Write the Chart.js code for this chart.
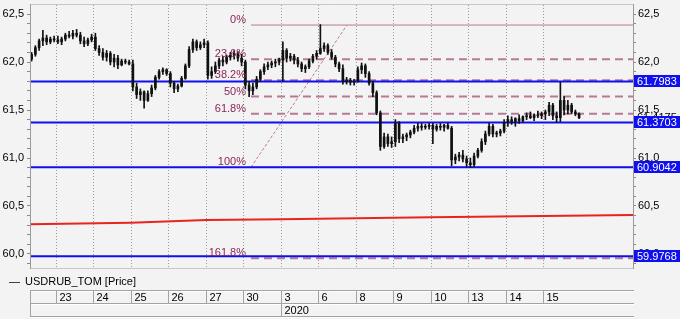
<!DOCTYPE html>
<html><head><meta charset="utf-8">
<script src="https://cdn.jsdelivr.net/npm/chart.js@4/dist/chart.umd.min.js"></script>
<style>html,body{margin:0;padding:0;background:#f3f3f3;overflow:hidden}canvas{display:block}</style>
</head><body>
<canvas id="c" width="680" height="319"></canvas>
<script>
// ---- data ----
const dayLabels = ['20','23','24','25','26','27','30','3','6','8','9','10','13','14','15'];
const yearLabel = '2020';
const yearStartDay = 7;          // index in dayLabels where the year 2020 begins
const candlesPerDay = 10;
const firstCandleSlot = 3;       // first visible candle slot of the partial first day
const seriesName = 'USDRUB_TOM [Price]';

const open = [
 62.03,62.08,62.15,62.22,62.25,62.21,62.24,
 62.23,62.21,62.24,62.28,62.27,62.30,62.28,62.22,62.19,62.23,
 62.26,62.14,62.10,62.05,62.09,62.00,62.04,61.97,62.01,62.00,
 61.98,61.74,61.66,61.69,61.60,61.67,61.73,61.84,61.90,61.92,
 61.88,61.78,61.72,61.75,61.83,61.96,62.13,62.21,62.15,62.18,
 62.20,61.86,61.90,61.96,62.02,62.00,62.05,62.07,62.09,62.04,
 62.00,61.76,61.70,61.74,61.82,61.90,61.95,61.97,61.99,62.00,
 62.02,62.12,62.04,62.06,62.02,61.98,61.93,61.95,62.01,62.06,
 62.09,62.14,62.17,62.10,62.05,61.98,61.93,61.80,61.81,61.79,
 61.80,61.92,61.96,61.88,61.78,61.68,61.47,61.12,61.22,61.15,
 61.17,61.36,61.20,61.22,61.24,61.27,61.31,61.33,61.32,61.33,
 61.34,61.30,61.33,61.32,61.34,61.31,60.98,61.01,61.03,60.99,
 60.95,60.93,61.02,61.08,61.17,61.25,61.33,61.25,61.26,61.28,
 61.37,61.40,61.38,61.41,61.39,61.43,61.44,61.42,61.45,61.44,
 61.46,61.48,61.55,61.44,61.42,61.60,61.50,61.55,61.48,61.46];
const high = [
 62.10,62.17,62.24,62.33,62.28,62.26,62.27,
 62.27,62.26,62.30,62.32,62.33,62.34,62.31,62.26,62.25,62.29,
 62.30,62.17,62.14,62.12,62.11,62.08,62.07,62.03,62.03,62.02,
 62.02,61.78,61.72,61.70,61.70,61.76,61.86,61.92,61.94,61.93,
 61.90,61.80,61.77,61.85,61.98,62.16,62.24,62.23,62.21,62.24,
 62.22,61.95,62.00,62.04,62.06,62.07,62.10,62.12,62.11,62.08,
 62.02,61.80,61.78,61.85,61.92,61.98,62.00,62.01,62.03,62.04,
 62.21,62.14,62.09,62.08,62.05,62.00,61.97,62.03,62.08,62.12,
 62.39,62.20,62.19,62.13,62.07,62.00,61.97,61.84,61.83,61.82,
 61.95,61.99,61.98,61.90,61.80,61.70,61.49,61.26,61.25,61.22,
 61.40,61.38,61.25,61.26,61.29,61.34,61.36,61.36,61.35,61.36,
 61.36,61.35,61.36,61.35,61.36,61.33,61.04,61.06,61.08,61.02,
 61.00,61.05,61.10,61.20,61.28,61.36,61.35,61.28,61.30,61.40,
 61.44,61.43,61.42,61.45,61.44,61.47,61.48,61.46,61.49,61.48,
 61.50,61.58,61.57,61.48,61.79,61.64,61.60,61.57,61.50,61.47];
const low = [
 62.01,62.06,62.12,62.17,62.18,62.19,62.21,
 62.19,62.18,62.22,62.25,62.24,62.26,62.19,62.16,62.17,62.21,
 62.12,62.07,62.02,62.01,61.97,61.95,61.93,61.96,61.98,61.97,
 61.70,61.62,61.60,61.52,61.59,61.64,61.71,61.82,61.87,61.86,
 61.74,61.68,61.69,61.74,61.82,61.94,62.10,62.12,62.13,62.15,
 61.82,61.83,61.88,61.93,61.96,61.98,62.02,62.03,62.01,61.96,
 61.72,61.64,61.66,61.72,61.80,61.87,61.92,61.94,61.95,61.97,
 61.80,62.00,62.01,61.98,61.95,61.90,61.89,61.93,61.99,62.03,
 62.08,62.11,62.08,62.03,61.95,61.90,61.77,61.77,61.76,61.76,
 61.79,61.88,61.84,61.76,61.64,61.45,61.08,61.10,61.12,61.11,
 61.12,61.16,61.16,61.18,61.21,61.25,61.28,61.29,61.30,61.30,
 61.15,61.28,61.29,61.28,61.30,60.92,60.94,60.97,60.96,60.91,
 60.90,60.91,61.00,61.06,61.14,61.23,61.22,61.22,61.23,61.26,
 61.33,61.35,61.33,61.36,61.37,61.40,61.41,61.39,61.42,61.41,
 61.40,61.44,61.40,61.37,61.38,61.45,61.46,61.46,61.44,61.41];
const close = [
 62.08,62.15,62.22,62.25,62.21,62.24,62.23,
 62.21,62.24,62.28,62.27,62.30,62.28,62.22,62.19,62.23,62.26,
 62.14,62.10,62.05,62.09,62.00,62.04,61.97,62.01,62.00,61.98,
 61.74,61.66,61.69,61.60,61.67,61.73,61.84,61.90,61.92,61.88,
 61.78,61.72,61.75,61.83,61.96,62.13,62.21,62.15,62.18,62.20,
 61.86,61.90,61.96,62.02,62.00,62.05,62.07,62.09,62.04,62.00,
 61.76,61.70,61.74,61.82,61.90,61.95,61.97,61.99,62.00,62.02,
 62.12,62.04,62.06,62.02,61.98,61.93,61.95,62.01,62.06,62.09,
 62.14,62.17,62.10,62.05,61.98,61.93,61.80,61.81,61.79,61.80,
 61.92,61.96,61.88,61.78,61.68,61.47,61.12,61.22,61.15,61.17,
 61.36,61.20,61.22,61.24,61.27,61.31,61.33,61.32,61.33,61.34,
 61.30,61.33,61.32,61.34,61.31,60.98,61.01,61.03,60.99,60.95,
 60.93,61.02,61.08,61.17,61.25,61.33,61.25,61.26,61.28,61.37,
 61.40,61.38,61.41,61.39,61.43,61.44,61.42,61.45,61.44,61.46,
 61.48,61.55,61.44,61.42,61.60,61.50,61.55,61.48,61.46,61.42];
const lastPrice = 61.4175;

const levelLines = [61.7983, 61.3703, 60.9042, 59.9768];

const fibNames  = ['0%','23.6%','38.2%','50%','61.8%','100%','161.8%'];
const fibValues = [62.385, 62.03, 61.81, 61.64, 61.46, 60.904, 59.955];
const fibSolid  = [true, false, false, false, false, true, false];

const redSlots  = [3.07, 30, 50, 70, 110, 163.87];
const redValues = [60.309, 60.326, 60.354, 60.361, 60.382, 60.406];

const yTicks = [59.9,60.0,60.1,60.2,60.3,60.4,60.5,60.6,60.7,60.8,60.9,61.0,61.1,61.2,61.3,61.4,61.5,
                61.6,61.7,61.8,61.9,62.0,62.1,62.2,62.3,62.4,62.5];

// ---- view range / anchors ----
const xMin = 3.067, xMax = 163.87;
const yMin = 59.854, yMax = 62.594;
const fibStartSlot = 62, fibDiagEndSlot = 87.6;

const FONT = '11px "Liberation Sans", Arial, sans-serif';
Chart.defaults.font.family = '"Liberation Sans", Arial, sans-serif';
Chart.defaults.font.size = 11;

const slots = open.map((_, i) => firstCandleSlot + i + 0.5);
const FIB_COL = '#b7799a';
const BLUE = '#0f0ff0';

const datasets = [
  {type:'bar', data: slots.map((x,i)=>({x, y:[low[i], high[i]]})), backgroundColor:'#111', barThickness:1, grouped:false, order:0},
  {type:'bar', data: slots.map((x,i)=>({x, y:[Math.min(open[i],close[i]), Math.max(open[i],close[i])]})), backgroundColor:'#111', barThickness:2, minBarLength:1, grouped:false, order:1},
  ...levelLines.map(v=>({type:'line', data:[{x:xMin,y:v},{x:xMax,y:v}], borderColor:BLUE, borderWidth:2, pointRadius:0, order:2})),
  ...fibValues.map((v,i)=>({type:'line', data:[{x:fibStartSlot,y:v},{x:xMax,y:v}], borderColor:FIB_COL, borderWidth: fibSolid[i]?1:2, borderDash: fibSolid[i]?[]:[8,5], pointRadius:0, order:3})),
  {type:'line', data:[{x:fibStartSlot,y:fibValues[5]},{x:fibDiagEndSlot,y:fibValues[0]}], borderColor:FIB_COL, borderWidth:1, borderDash:[3,2], pointRadius:0, order:3},
  {type:'line', data: redSlots.map((x,i)=>({x, y:redValues[i]})), borderColor:'#e8241e', borderWidth:2, pointRadius:0, order:4}
];

const fmt = v => (Math.abs(v*2 - Math.round(v*2)) < 1e-6) ? v.toFixed(1).replace('.', ',') : '';

function yAxis(pos){
  return {
    position: pos, min: yMin, max: yMax,
    afterFit(s){ s.width = pos === 'left' ? 30 : 47; s.paddingTop = 0; s.paddingBottom = 0; },
    afterBuildTicks(s){ s.ticks = yTicks.map(v => ({value: v})); },
    ticks: { callback: fmt, color:'#000', padding: pos==='left'?3:2, autoSkip:false, font:{size:11} },
    grid: { drawOnChartArea:false, tickLength:3, color:'#8a8a8a' },
    border: { display:false }
  };
}

const deco = {
  id:'deco',
  beforeDatasetsDraw(chart){
    const {ctx, chartArea:a, scales:{x}} = chart;
    ctx.save();
    ctx.strokeStyle='#9c9c9c'; ctx.lineWidth=1; ctx.setLineDash([1,2]);
    for (let d=1; d<dayLabels.length; d++){
      const px = Math.round(x.getPixelForValue(d*candlesPerDay))+0.5;
      ctx.beginPath(); ctx.moveTo(px,a.top); ctx.lineTo(px,a.bottom); ctx.stroke();
    }
    ctx.restore();
  },
  afterDraw(chart){
    const {ctx, chartArea:a, scales:{x, y}} = chart;
    ctx.save();
    // frame
    ctx.lineWidth=1;
    ctx.strokeStyle='#c6c6c6';
    ctx.beginPath(); ctx.moveTo(a.left, a.top-0.5); ctx.lineTo(a.right, a.top-0.5); ctx.stroke();
    ctx.beginPath(); ctx.moveTo(a.left, a.bottom+0.5); ctx.lineTo(a.right, a.bottom+0.5); ctx.stroke();
    ctx.strokeStyle='#9a9a9a';
    ctx.beginPath(); ctx.moveTo(a.left+0.5, a.top-1); ctx.lineTo(a.left+0.5, a.bottom+1); ctx.stroke();
    ctx.beginPath(); ctx.moveTo(a.right+0.5, a.top-1); ctx.lineTo(a.right+0.5, a.bottom+1); ctx.stroke();

    // fib labels
    ctx.font = FONT; ctx.fillStyle='#8c2557'; ctx.textAlign='right'; ctx.textBaseline='alphabetic';
    const lx = x.getPixelForValue(fibStartSlot) - 5;
    fibValues.forEach((v,i)=>{ ctx.fillText(fibNames[i], lx, y.getPixelForValue(v) - 2); });

    // last price label (partly hidden) and level boxes
    ctx.textAlign='left'; ctx.textBaseline='middle';
    ctx.fillStyle='#000';
    ctx.fillText(lastPrice.toFixed(4).replace('.', ','), a.right+4, y.getPixelForValue(lastPrice));
    levelLines.forEach(v=>{
      const py = Math.round(y.getPixelForValue(v));
      ctx.fillStyle = BLUE; ctx.fillRect(a.right+1, py-6, 680-a.right-1, 12);
      ctx.fillStyle = '#fff'; ctx.fillText(v.toFixed(4), a.right+4, py+0.5);
    });

    // legend
    ctx.fillStyle='#000'; ctx.fillText('—', 9, 282);
    ctx.fillText(seriesName, 25, 282);

    // x axis table
    const t1 = 290.5, t2 = 303.5, t3 = 316.5;
    ctx.strokeStyle='#a3a3a3';
    [t1,t2,t3].forEach(ty=>{ ctx.beginPath(); ctx.moveTo(a.left, ty); ctx.lineTo(a.right+1, ty); ctx.stroke(); });
    ctx.strokeStyle='#ffffff';
    [t1+1,t2+1,t3+1].forEach(ty=>{ ctx.beginPath(); ctx.moveTo(a.left+1, ty); ctx.lineTo(a.right+1, ty); ctx.stroke(); });
    ctx.strokeStyle='#a3a3a3';
    ctx.beginPath(); ctx.moveTo(a.left+0.5, t1); ctx.lineTo(a.left+0.5, t3); ctx.stroke();
    ctx.fillStyle='#000';
    for (let d=1; d<dayLabels.length; d++){
      const px = Math.round(x.getPixelForValue(d*candlesPerDay))+0.5;
      ctx.strokeStyle='#a3a3a3';
      ctx.beginPath(); ctx.moveTo(px, t1); ctx.lineTo(px, t2); ctx.stroke();
      ctx.fillText(dayLabels[d], px+3, 297.5);
    }
    const yx = Math.round(x.getPixelForValue(yearStartDay*candlesPerDay))+0.5;
    ctx.beginPath(); ctx.moveTo(yx, t2); ctx.lineTo(yx, t3); ctx.stroke();
    ctx.fillText(yearLabel, yx+3, 310.5);
    ctx.restore();
  }
};

new Chart(document.getElementById('c'), {
  type:'line',
  data:{ datasets },
  options:{
    responsive:false, animation:false, devicePixelRatio:1, events:[],
    layout:{ padding:{ top:5, bottom:51, left:0, right:0 } },
    plugins:{ legend:{display:false}, tooltip:{enabled:false} },
    scales:{
      x:{ type:'linear', min:xMin, max:xMax, offset:false, display:false },
      y: yAxis('left'),
      y2: yAxis('right')
    }
  },
  plugins:[deco]
});
</script>
</body></html>
